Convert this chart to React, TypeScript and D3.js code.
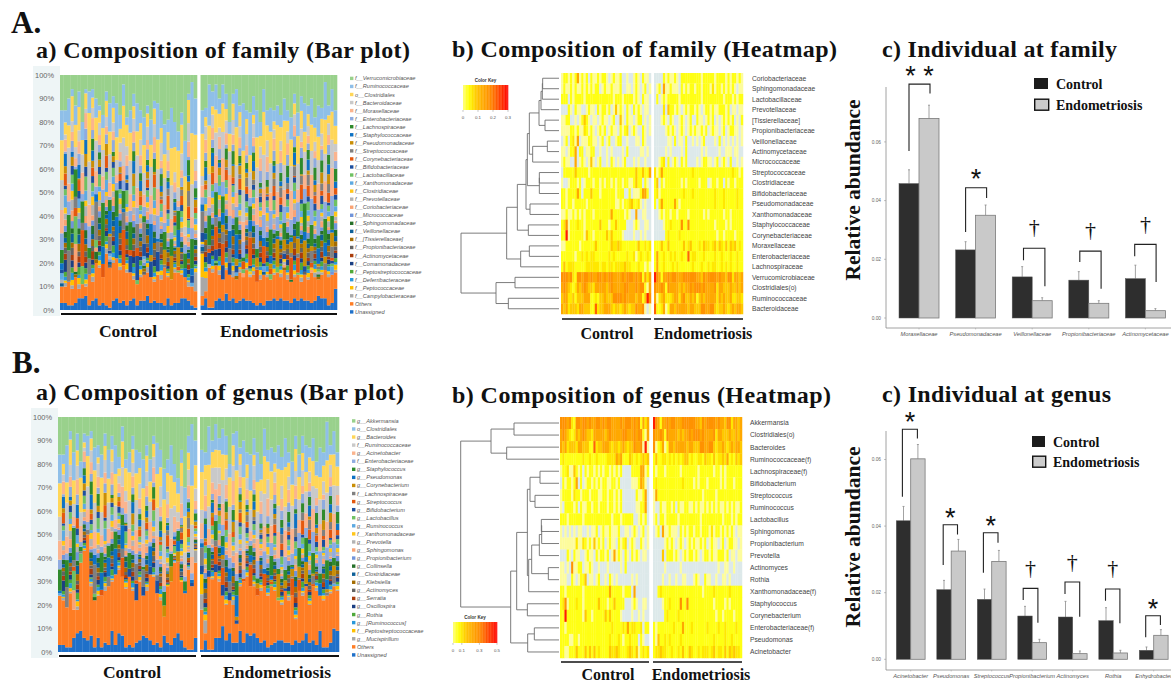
import React from "react";
import * as d3 from "d3";

const SERIF = "'Liberation Serif','Times New Roman',serif";
const SANS = "'Liberation Sans',Arial,sans-serif";

// ---------- stacked composition bars ----------
const percentTicks = [0, 10, 20, 30, 40, 50, 60, 70, 80, 90, 100];
const familyNames = ["f__Verrucomicrobiaceae","f__Ruminococcaceae","o__Clostridiales","f__Bacteroidaceae","f__Moraxellaceae","f__Enterobacteriaceae","f__Lachnospiraceae","f__Staphylococcaceae","f__Pseudomonadaceae","f__Streptococcaceae","f__Corynebacteriaceae","f__Bifidobacteriaceae","f__Lactobacillaceae","f__Xanthomonadaceae","f__Clostridiaceae","f__Prevotellaceae","f__Coriobacteriaceae","f__Micrococcaceae","f__Sphingomonadaceae","f__Veillonellaceae","f__[Tissierellaceae]","f__Propionibacteriaceae","f__Actinomycetaceae","f__Comamonadaceae","f__Peptostreptococcaceae","f__Deferribacteraceae","f__Peptococcaceae","f__Campylobacteraceae","Others","Unassigned"];
const genusNames = ["g__Akkermansia","o__Clostridiales","g__Bacteroides","f__Ruminococcaceae","g__Acinetobacter","f__Enterobacteriaceae","g__Staphylococcus","g__Pseudomonas","g__Corynebacterium","f__Lachnospiraceae","g__Streptococcus","g__Bifidobacterium","g__Lactobacillus","g__Ruminococcus","f__Xanthomonadaceae","g__Prevotella","g__Sphingomonas","g__Propionibacterium","g__Collinsella","f__Clostridiaceae","g__Klebsiella","g__Actinomyces","g__Serratia","g__Oscillospira","g__Rothia","g__[Ruminococcus]","f__Peptostreptococcaceae","g__Mucispirillum","Others","Unassigned"];
const stackColors = ["#99d18c","#8fbfe8","#ffd658","#c9c9c9","#fbb48e","#8fabdf","#2f8a2c","#0e72c4","#c98e06","#808080","#e4580f","#1d4f9e","#6fc163","#5eaae2","#ffc61a","#b3b3b3","#f9a374","#7094da","#26702a","#0d6098","#a46c02","#636363","#a93d0d","#1b3f82","#4fa93a","#2a98da","#ffc000","#a8a8a8","#ff7d24","#1f70c9"];

const familyUnassigned = [3,3,2,2,3,5,5,6,2,4,5,2,3,2,1,4,5,3,4,2,4,5,2,4,4,6,3,4,3,3,2,5,2,3,3,5,5,4,2,1, 2,5,1,1,4,5,4,7,4,5,3,4,5,4,4,3,2,3,2,4,4,5,4,5,4,4,3,5,4,5,4,4,3,4,6,5,5,2,3,9];
const familyOthers = [10,10,12,9,14,9,11,10,15,12,20,18,14,24,18,20,22,17,19,16,16,13,11,14,15,16,14,12,15,13,18,14,13,16,16,15,14,10,10,8, 6,8,18,16,19,15,13,17,15,14,13,16,14,17,14,15,12,13,15,14,13,15,16,14,17,13,12,14,15,12,15,13,16,14,13,15,17,14,15,16];
const familyTop = [85,85,90,94,87,93,80,94,93,94,90,87,83,93,88,91,88,83,96,82,85,92,88,85,82,87,81,89,88,85,79,81,86,80,76,84,72,92,97,90, 85,86,96,93,96,90,96,92,80,92,94,87,88,85,84,91,85,80,94,85,86,85,87,83,90,85,82,92,84,91,88,87,90,82,87,86,97,87,94,85];
const familyMid = [
"9a647a5345 5437a89c65 4a7a9686bc a9cfa8c4ej a7b9ba8c46 b6c7ff9c8b 9b7a89a7ba a8b9c9ba8c",
"ca5e8f4b96 6a5c8a6c9e 5a6d9a7c9a 8dbfjjhfed i7d5a9c96a bdac67a9fb c8ebg9c8dc 7bbc9ca8ae",
"9486475386 8a67a64886 6a8c7a9a6c 98a67b3c96 4a68a6ba89 8a896baacc b9a89ab8c9 89a89a8ca6",
"7a45386b47 4836562847 3958476c85 6746353a35 5a37c8a9e6 4a58379b9b 7c9a6ad864 57a6a36aa7",
"5236172845 2637182536 2746383574 3524263234 3625476354 3746358a86 7a58697897 56b8a95a76",
"4080a06027 06a0437050 5806240a08 6352a05a85 0583a27908 5715573405 a5276a147b a99b5a7a5a",
"2a03090a06 204080b013 0a0805a014 0505903421 3a08135061 7203480130 3714052910 3a04604a15",
"0605010904 0609140502 0a04052203 5071a20604 0304053607 2804073405 26a1405171 9426192a50",
"0070402030 a000500150 0060710032 1502040a00 9010405250 0407241301 0708152726 0a53162940",
"0a0037a005 00390006a0 1027060a03 0a04260803 0417a09804 0a26a04061 2a0604a17a 0a27040a15",
"1305050704 0603140705 3060425060 0302040120 4030506041 2506140513 0406250403 2506070314",
"0505a05a05 2a06060409 0714050a05 0406140503 0604170604 0815160405 2a27060615 0805140615",
"2a04060703 0409150402 0503140604 0501030413 0504060503 1604050314 0403050604 0504030524",
"0505030405 0703050503 0503040513 0502040203 1504030504 0503140506 0403150304 0514030504",
"1506040706 0503140503 0604130503 0402030302 0415060304 0503150304 0604130502 0503140603",
"0506a00503 1405060304 0504060302 0201030302 0403050405 0314050604 0503140503 0614050302",
"0504060503 0503140602 0504130503 0401030201 1504030504 0503040314 0403050503 0504030415",
"0503140605 2503060504 0503140504 0201040203 0403150603 0403050403 0504061403 0504130605",
"1405060403 0503140605 0403050402 0201030402 2504030504 0503040514 0503040503 0403050604",
"0403150504 1504030504 0504160503 0402010302 0402030405 1403050503 0503140503 0403150604",
"0504030403 0403140503 0504130605 0302040102 1504030503 0504040503 0402050403 1503040503",
"0503040405 0402030503 0504040203 0302010302 0403040503 0403050402 0503040504 0304050302",
"0a04030403 0504030402 0503040501 0201020302 0403050402 0504030403 0304050403 0402030504",
"0403050402 0304050302 0304020503 0201030201 0402030403 0304050403 0402040305 0403040203",
"0304020403 0402030402 0503020304 0102010201 0304030402 0403020304 0403020403 0304030502",
"0203040302 0403020304 0204030203 0201020102 a502030403 0204030402 0403020302 0403020304",
"0302030203 0204020302 0302040203 010201030a 8a02030204 0302030402 0203040203 0204020302",
];

const genusUnassigned = [3,3,2,2,6,8,9,6,5,7,2,6,2,4,3,9,3,8,7,2,3,2,4,5,7,6,5,3,4,2,7,4,3,6,8,5,2,1,1,6, 1,5,1,1,6,6,11,5,8,4,4,9,4,8,7,8,6,4,5,2,3,4,5,5,4,4,3,5,4,5,8,4,5,3,9,2,2,4,10,9];
const genusOthers = [24,22,19,25,18,18,38,43,50,28,22,24,24,26,28,30,33,35,32,27,32,26,22,30,24,26,33,32,25,22,15,28,30,38,38,30,25,35,28,38, 18,8,32,31,34,30,24,20,22,20,12,28,30,32,28,28,24,26,28,24,28,26,22,20,26,22,24,14,26,24,28,20,28,26,24,22,24,25,28,26];
const genusTop = [84,84,88,94,85,93,81,93,92,94,87,88,84,93,86,92,88,83,96,82,85,92,86,85,82,88,82,92,89,86,78,82,88,80,74,86,70,92,97,90, 86,85,96,90,97,91,95,92,80,93,94,87,90,85,84,91,85,80,95,86,87,85,88,83,91,85,81,92,84,92,88,87,91,81,87,85,98,88,94,85];
const genusMid = [
"c8b5da7a85 7a88c9ab76 5c7ea8b7cb bbcdf9ceji a9c8d9ce57 b6cbfecfb8 bc9ab9c9cb b9bdcbca9b",
"e96fb9f6c8 a5c9a8b7cf 7c8ebcabdc cfdhigfech hadb9dcabc eafc89cbfc d9ecfcbfcb 8dcc9dabcf",
"a6a7686498 9b88b75797 7c9d8ba9bd bac89c5da9 6b7abcbca9 9b9a9cbadd cbaa9bcaba 9ab9ab9db7",
"8b56497c58 59476839a8 5a7958ad96 8b5b7a5b56 7b58d9aa9e 6a69489cac 8da9abd975 68b7b48ab8",
"4226162735 2526171436 1635372463 2413252323 2514365243 2635247975 6947586786 45a7984a65",
"9080f02809 0a70526051 4705140a06 5250a14505 0472a35806 4604462503 95264913a6 88ab496939",
"1a0208090a 30608090b0 0a0605a004 0402a01311 2a07024051 6102370120 2605041a00 2a03503905",
"0403000803 0508030401 0a03040102 4060a10503 0203042506 1703062304 1590304060 9315081a40",
"0060301020 9000400040 0050600021 0401030900 8000304140 0306130200 0607041615 0942051830",
"0900260004 0028000590 0016050902 0903150702 0306908703 0915903050 1905039069 0916030904",
"0204040603 0502030604 2050314050 0201030010 3020405030 1405030402 0305140302 1405060203",
"0404904904 1905050308 0603040904 0305030402 0503060503 0704050304 1916050504 0704030504",
"1903050602 0308040301 0402030503 0400020302 0403050402 0503040203 0302040503 0403020413",
"0404020304 0a02040402 0402030402 0401030102 0403020403 0402030405 0302040203 0403020403",
"0405030605 0402030402 0503020402 0301020201 0304050203 0402040203 0503020401 0402030502",
"0405900402 0304050203 0403050201 0100020201 0302040304 0203040503 0402030402 0503040201",
"0403050402 0402030501 0403020402 0300020100 0403020403 0402030203 0302040402 0403020304",
"0402030504 1402050403 0402030403 0100030102 0302040502 0302040302 0403050302 0403020504",
"0304050302 0402030504 0302040301 0100020301 1403020403 0402030403 0402030402 0302040503",
"0302040403 0403020403 0403050402 0301000201 0301020304 0302040402 0402030402 0302040503",
"0403020302 0302030402 0403020504 0201030001 0403020402 0403030402 0301040302 0402030402",
"0402030304 0301020402 0403030102 0201000201 0302030402 0302040301 0402030403 0203040201",
"0903020302 0403020301 0402030400 0100010201 0302040301 0403020302 0203040302 0301020403",
"0302040301 0203040201 0203010402 0100020100 0301020302 0203040302 0301030204 0302030102",
"0203010302 0301020301 0402010203 0001000100 0203020301 0302010203 0302010302 0203020401",
"0102030201 0302010203 0103020102 0100010001 9401020302 0103020301 0302010201 0302030203",
"0201020102 0103010201 0201030102 0001000209 7901020103 0201020301 0102030102 0103010201",
];

// ---------- heatmaps: abundance level per sample, 0 = absent ----------
const familyRows = ["Coriobacteriaceae","Sphingomonadaceae","Lactobacillaceae","Prevotellaceae","[Tissierellaceae]","Propionibacteriaceae","Veillonellaceae","Actinomycetaceae","Micrococcaceae","Streptococcaceae","Clostridiaceae","Bifidobacteriaceae","Pseudomonadaceae","Xanthomonadaceae","Staphylococcaceae","Corynebacteriaceae","Moraxellaceae","Enterobacteriaceae","Lachnospiraceae","Verrucomicrobiaceae","Clostridiales(o)","Ruminococcaceae","Bacteroidaceae"];
const familyHeat = [
"1221212512 1202112122 1012112001 0012102110 0000212112 1022222222 2122222122 2212122121",
"1211212112 1212122012 1121112001 1012101201 0120511211 1021212212 2122213122 1212121011",
"2220212222 1222222222 2221222122 2212102110 0201212222 2122222222 2122222222 2122212122",
"0002102110 0121102122 1201412102 1021210110 0000304221 2101212212 1012212112 2212011011",
"1122001012 4210110121 1012004102 1101220101 0001210210 0121012002 1101212010 1212120102",
"1111221211 3212101212 0121102123 0121002101 0000012121 0121012121 1212012110 1201221101",
"0120231501 1122110120 1200122001 0001102100 0000001102 0110200101 0120000102 0101010101",
"1101225022 0112200100 1010000102 0000011010 0000010100 0010200000 0101000001 0011101100",
"1211005012 1014101200 1021010120 0010100100 0012302012 1021200001 0122110120 1210200101",
"0222224222 2212222222 2222222222 2224224225 3125222222 2222222322 2222222222 2222232212",
"1001222120 1222122121 2212122122 1124220210 2402122222 2212122222 1222012212 2021221222",
"2212222520 2224222122 2222122200 2011125520 2312222222 2223222322 2222222322 2322222322",
"2212212222 2122222222 2222112122 3422310100 2025222225 2122222222 2222222322 2322222322",
"1121121212 1222122222 2252222212 1005001100 0012122122 1222212222 2212122222 2122122222",
"2361222322 1222222422 2122422220 0012100110 0000122322 2262262222 2222222122 2212122222",
"2281222222 1422122222 4242222100 0010010100 0000023222 2322222222 2222222212 2122221222",
"1122222212 2222242222 2243343222 2222422323 2224224222 2224234222 3243323424 3242434232",
"2222221223 2323322222 2323222223 2231232232 2522322323 2232272332 2232222322 3222322322",
"2423332222 2333333233 2332333343 3222322121 2522322232 3222222322 2322323322 3232322322",
"6665632665 6656556656 5665555656 6656562535 8652556566 5556666665 5465666656 5546635545",
"5654323545 6544355555 4565555566 5556566215 6556526555 5454556566 6565555635 5444544545",
"4553342444 5552232445 4446666565 5554552486 5134533345 5356445452 4545555535 4544533443",
"5453444355 4442273445 5543443454 3446556101 7223512554 5555545544 4665566434 4543454554",
];
const genusRows = ["Akkermansia","Clostridiales(o)","Bacteroides","Ruminococcaceae(f)","Lachnospiraceae(f)","Bifidobacterium","Streptococcus","Ruminococcus","Lactobacillus","Sphingomonas","Propionibacterium","Prevotella","Actinomyces","Rothia","Xanthomonadaceae(f)","Staphylococcus","Corynebacterium","Enterobacteriaceae(f)","Pseudomonas","Acinetobacter"];
const genusHeat = [
"6665632665 6656556656 5665555656 6656562535 8652556566 5556666665 5465666656 5546635545",
"5654323545 6544355555 4565555566 5556566215 6556526555 5454556566 6565555635 5444544545",
"5453444355 4442273445 5543443454 3446556181 6123512554 5555545544 4665566434 4543454554",
"2322222222 3223223222 2333354522 2432323434 2422332323 2323442322 3324332423 3435232434",
"1223114212 0212212121 2212121200 0022225512 2122212222 2212222222 1222222122 1212222222",
"0212212502 0122121212 2112212000 0011125410 2322222222 2223222212 1222122222 1212221222",
"1222213221 2221222112 2122121200 0000211250 1522222222 2222222222 2212222212 2222222222",
"1022221202 1122122122 2122121200 0000112250 1002112212 0211221121 2112121212 1121212112",
"2221222222 1222222222 2221222122 2220012120 1202212222 2122222222 2122222222 2122212122",
"1010101011 0010112012 1121112001 1012101201 0120511211 1021212212 2122213122 1212121011",
"1111111311 3212141212 0121102123 0121002101 0000012121 0121012121 1212012110 1201221101",
"0002102110 0121102122 1201512102 1021210110 0000402221 2101212212 1012212112 2212011011",
"1101061122 0112100100 0100000102 0000000000 0000010000 0010000000 0000000001 0011001000",
"1110021012 2401101200 1021010000 0010100000 0000100100 1001100012 1002110010 0110100000",
"2212222222 1222222222 2252222212 2205000000 0023222222 2222222222 2212222322 2222322222",
"2361222322 1222222422 2122422220 0012100110 0000122322 2262262222 2222222122 2212122222",
"2282222222 1422122222 4242222100 0010010100 0000023222 2322222222 2222222212 2122221222",
"2212222222 2222222222 2223222232 5233223022 2122222223 2225222322 2222322223 2232222322",
"2222112212 2222222222 2232223212 2322202100 2142232322 2232222222 2222222322 2232232222",
"2211222422 2424242322 2243343222 3432412323 2334332232 2324224322 3233323423 3242434332",
];
const heatLevels = [0,1,2,3,4,5,6,7,8];
const heatColors = ["#dde9ea","#fdfc9c","#ffff14","#ffe800","#ffc800","#ffa800","#ff9200","#ff6400","#ff1e00"];
const familyKeyTicks = [0,0.1,0.2,0.3];
const genusKeyTicks = [0,0.1,0.3,0.5];

// dendrograms: [merge height, left, right], a bare number is a row
type Tree = number | [number, Tree, Tree];
const familyTree: Tree = [294,
  [157,
    [125,
      [99,
        [95,
          [89,
            [60,[54,[50,[49,0,1],2],3],[42,4,5]],
            [79,[35,6,7],8]],
          [59,[59,9,10],11]],
        [87,12,13]],
      [92,14,15]],
    [115,[89,16,17],18]],
  [189,[132,19,20],[152,21,22]]];
const genusTree: Tree = [295,
  [204,[135,0,1],[157,2,3]],
  [145,
    [127,
      [95,
        [87,[57,4,5],[72,6,7]],
        [91,
          [82,
            [59,[52,[53,8,9],10],11],
            [32,12,13]],
          14]],
      [95,15,16]],
    [94,[74,17,18],19]]];

// ---------- individual abundance bars ----------
const familyTaxa = ["Moraxellaceae","Pseudomonadaceae","Veillonellaceae","Propionibacteriaceae","Actinomycetaceae"];
const familyControl = [0.0458,0.0232,0.014,0.0129,0.0134];
const familyEndo = [0.068,0.035,0.0059,0.005,0.0025];
const familyControlHi = [0.0505,0.026,0.0175,0.0158,0.018];
const familyEndoHi = [0.0725,0.0385,0.0069,0.0059,0.0032];
const familyBracketTop = [0.0797,0.0444,0.02375,0.0228,0.0251];
const familyBracketLeft = [0.0569,0.0293,0.0197,0.0191,0.021];
const familyBracketRight = [0.0765,0.0409,0.0108,0.01,0.0123];
const familyMarks = ["* *","*","†","†","†"];
const familyMarkLevel = [0.0838,0.0488,0.0293,0.0282,0.0302];
const familyYTicks = [0,0.02,0.04,0.06];

const genusTaxa = ["Acinetobacter","Pseudomonas","Streptococcus","Propionibacterium","Actinomyces","Rothia","Enhydrobacter"];
const genusControl = [0.0416,0.0209,0.018,0.013,0.0127,0.0116,0.0027];
const genusEndo = [0.0602,0.0325,0.0294,0.005,0.0017,0.0019,0.0072];
const genusControlHi = [0.0459,0.0237,0.0211,0.0159,0.0174,0.0155,0.0037];
const genusEndoHi = [0.0645,0.036,0.0327,0.006,0.0025,0.0027,0.0089];
const genusBracketTop = [0.0691,0.0404,0.038,0.0213,0.0232,0.0211,0.0131];
const genusBracketLeft = [0.0488,0.0283,0.026,0.0178,0.0196,0.0176,0.0066];
const genusBracketRight = [0.0663,0.0375,0.035,0.011,0.0128,0.0108,0.0103];
const genusMarks = ["*","*","*","†","†","†","*"];
const genusMarkLevel = [0.0725,0.0436,0.0412,0.0258,0.0278,0.0258,0.0163];
const genusYTicks = [0,0.02,0.04,0.06];

const digits = (s: string) => s.replace(/ /g, "").split("").map((c) => parseInt(c, 36));

function StackPanel({ names, unassigned, others, top, mid, xL, xR, y0, y1, legX, legY0, legY1, labelY, lineY, ctlX, endoX }: any) {
  const n = unassigned.length;
  const half = n / 2;
  const mids = mid.map(digits);
  const table = d3.range(n).map((i) => {
    const row: Record<string, number> = {};
    const sum = d3.sum(mids as number[][], (m) => m[i] || 0);
    const room = top[i] - others[i];
    names.forEach((name: string, k: number) => {
      if (k === 0) row[name] = 100 - top[i];
      else if (k === names.length - 1) row[name] = unassigned[i];
      else if (k === names.length - 2) row[name] = others[i] - unassigned[i];
      else row[name] = ((mids[k - 1][i] || 0) * room) / sum;
    });
    return row;
  });
  const keys = [...names].reverse();
  const layers = d3.stack<Record<string, number>>().keys(keys)(table);
  const color = d3.scaleOrdinal<string, string>().domain(names).range(stackColors);
  const y = d3.scaleLinear().domain([0, 100]).range([y0, y1]);
  const xCtl = d3.scaleBand<number>().domain(d3.range(half)).range([xL[0], xL[1]]);
  const xEnd = d3.scaleBand<number>().domain(d3.range(half)).range([xR[0], xR[1]]);
  const leg = d3.scalePoint<string>().domain(names).range([legY0, legY1]);
  return (
    <g>
      <rect x={xL[0] - 27} y={y1 - 9} width={27} height={y0 - y1 + 15} fill="#eef5f6" />
      {percentTicks.map((t) => (
        <text key={t} x={xL[0] - 6} y={y(t) + 2.5} textAnchor="end" fontFamily={SANS} fontSize={7.4} fill="#666">{t}%</text>
      ))}
      <g style={{ filter: "blur(0.35px)" }}>
        {layers.map((layer) => layer.map((d, i) => {
          const ctl = i < half;
          const sc = ctl ? xCtl : xEnd;
          const j = ctl ? i : i - half;
          return <rect key={layer.key + i} x={sc(j)} width={sc.bandwidth() + 0.3} y={y(d[1])} height={Math.max(0, y(d[0]) - y(d[1]))} fill={color(layer.key)} />;
        }))}
      </g>
      <line x1={xL[0] + 1} x2={xL[1] - 1} y1={lineY} y2={lineY} stroke="#111" strokeWidth={2} />
      <line x1={xR[0] + 1} x2={xR[1]} y1={lineY} y2={lineY} stroke="#111" strokeWidth={2} />
      <text x={ctlX} y={labelY} textAnchor="middle" fontFamily={SERIF} fontWeight="bold" fontSize={17.5} fill="#111">Control</text>
      <text x={endoX} y={labelY} textAnchor="middle" fontFamily={SERIF} fontWeight="bold" fontSize={17.5} fill="#111">Endometriosis</text>
      {names.map((name: string) => (
        <g key={name}>
          <rect x={legX} y={leg(name)! - 1.8} width={3.4} height={3.4} fill={color(name)} />
          <text x={legX + 5} y={leg(name)! + 1.9} fontFamily={SANS} fontStyle="italic" fontSize={5.6} fill="#555">{name}</text>
        </g>
      ))}
    </g>
  );
}

function Dendrogram({ tree, rowY, hMax, xLeaf, xRoot }: any) {
  const root = d3.hierarchy<Tree>(tree, (d) => (Array.isArray(d) ? (d.slice(1) as Tree[]) : null));
  const x = d3.scaleLinear().domain([0, hMax]).range([xLeaf, xRoot]);
  const pos = new Map<any, [number, number]>();
  const paths: string[] = [];
  root.eachAfter((node) => {
    if (!node.children) { pos.set(node, [xLeaf, rowY(String(node.data))]); return; }
    const h = (node.data as any)[0];
    const a = pos.get(node.children[0])!;
    const b = pos.get(node.children[1])!;
    paths.push(`M${a[0]},${a[1]}H${x(h)}V${b[1]}H${b[0]}`);
    pos.set(node, [x(h), (a[1] + b[1]) / 2]);
  });
  return <path d={paths.join("")} fill="none" stroke="#6e6e6e" strokeWidth={0.9} />;
}

function HeatPanel({ rows, heat, tree, hMax, xL, xR, y0, y1, labelX, lineY, labelY, ctlX, endoX, xLeaf, xRoot, keyBox, keyTicks }: any) {
  const half = 40;
  const color = d3.scaleLinear<string>().domain(heatLevels).range(heatColors);
  const y = d3.scaleBand<string>().domain(rows).range([y0, y1]);
  const rowY = (r: string) => y(rows[+r] ?? r)! + y.bandwidth() / 2;
  const xCtl = d3.scaleBand<number>().domain(d3.range(half)).range([xL[0], xL[1]]);
  const xEnd = d3.scaleBand<number>().domain(d3.range(half)).range([xR[0], xR[1]]);
  const keyScale = d3.scaleLinear().domain([keyTicks[0], keyTicks[keyTicks.length - 1]]).range([keyBox[0], keyBox[1]]);
  const keyStops = d3.scaleLinear<string>().domain([0, 0.12, 0.3, 0.6, 1]).range(["#ffff70", "#ffff00", "#ffc400", "#ff8a00", "#ff0000"]);
  return (
    <g>
      <g style={{ filter: "blur(0.3px)" }}>
        {heat.map((line: string, r: number) => digits(line).map((v: number, i: number) => {
          const ctl = i < half;
          const sc = ctl ? xCtl : xEnd;
          return <rect key={r + "-" + i} x={sc(ctl ? i : i - half)} y={y(rows[r])} width={sc.bandwidth() + 0.25} height={y.bandwidth() + 0.25} fill={color(v)} />;
        }))}
      </g>
      {rows.map((name: string) => (
        <text key={name} x={labelX} y={y(name)! + y.bandwidth() / 2 + 2.4} fontFamily={SANS} fontSize={6.7} fill="#444">{name}</text>
      ))}
      <Dendrogram tree={tree} rowY={rowY} hMax={hMax} xLeaf={xLeaf} xRoot={xRoot} />
      <line x1={xL[0] + 1} x2={xL[1]} y1={lineY} y2={lineY} stroke="#111" strokeWidth={1.6} />
      <line x1={xR[0]} x2={xR[1]} y1={lineY} y2={lineY} stroke="#111" strokeWidth={1.6} />
      <text x={ctlX} y={labelY} textAnchor="middle" fontFamily={SERIF} fontWeight="bold" fontSize={16} fill="#111">Control</text>
      <text x={endoX} y={labelY} textAnchor="middle" fontFamily={SERIF} fontWeight="bold" fontSize={16} fill="#111">Endometriosis</text>
      {d3.range(60).map((i) => (
        <rect key={i} x={keyBox[0] + (i * (keyBox[1] - keyBox[0])) / 60} y={keyBox[2]} width={(keyBox[1] - keyBox[0]) / 60 + 0.3} height={keyBox[3] - keyBox[2]} fill={keyStops(i / 60)} />
      ))}
      <text x={(keyBox[0] + keyBox[1]) / 2} y={keyBox[2] - 2.6} textAnchor="middle" fontFamily={SANS} fontWeight="bold" fontSize={4.6} fill="#333">Color Key</text>
      {keyTicks.map((t: number) => (
        <g key={t}>
          <line x1={keyScale(t)} x2={keyScale(t)} y1={keyBox[3]} y2={keyBox[3] + 1.8} stroke="#666" strokeWidth={0.4} />
          <text x={keyScale(t)} y={keyBox[3] + 9} textAnchor="middle" fontFamily={SANS} fontSize={4.4} fill="#555">{t}</text>
        </g>
      ))}
    </g>
  );
}

function BarsPanel({ taxa, control, endo, controlHi, endoHi, top, left, right, marks, markLevel, yTicks, x0, step, barW, dLeft, dRight, yZero, yPer, axisX, axisTop, axisY, axisEnd, yLabelX, yLabelY, leg }: any) {
  const x = d3.scaleBand<string>().domain(taxa).range([x0 - step / 2, x0 - step / 2 + step * taxa.length]);
  const cx = (t: string) => x(t)! + step / 2;
  const y = d3.scaleLinear().domain([0, 0.06]).range([yZero, yZero - yPer * 3]);
  return (
    <g>
      <path d={`M${axisX},${axisTop}V${axisY}H${axisEnd}`} fill="none" stroke="#8a8a8a" strokeWidth={0.8} />
      {yTicks.map((t: number) => (
        <g key={t}>
          <line x1={axisX - 2} x2={axisX} y1={y(t)} y2={y(t)} stroke="#888" strokeWidth={0.5} />
          <text x={axisX - 5} y={y(t) + 1.7} textAnchor="end" fontFamily={SANS} fontSize={4.8} fill="#666">{t.toFixed(2)}</text>
        </g>
      ))}
      {taxa.map((t: string, i: number) => {
        const c = cx(t);
        return (
          <g key={t}>
            <line x1={c} x2={c} y1={axisY} y2={axisY + 1.5} stroke="#888" strokeWidth={0.4} />
            <text x={c} y={axisY + 8} textAnchor="middle" fontFamily={SANS} fontStyle="italic" fontSize={5.7} fill="#555">{t}</text>
            <path d={`M${c - barW / 2},${y(control[i])}V${y(controlHi[i])}m-1,0h2`} fill="none" stroke="#8c8c8c" strokeWidth={0.8} />
            <path d={`M${c + barW / 2},${y(endo[i])}V${y(endoHi[i])}m-1,0h2`} fill="none" stroke="#8c8c8c" strokeWidth={0.8} />
            <rect x={c - barW} y={y(control[i])} width={barW} height={y(0) - y(control[i])} fill="#2e2e2e" stroke="#555" strokeWidth={0.5} />
            <rect x={c} y={y(endo[i])} width={barW} height={y(0) - y(endo[i])} fill="#c9c9c9" stroke="#7a7a7a" strokeWidth={0.8} />
            <path d={`M${c + dLeft[i]},${y(left[i])}V${y(top[i])}H${c + dRight[i]}V${y(right[i])}`} fill="none" stroke="#222" strokeWidth={1.1} />
            <text x={c + (dLeft[i] + dRight[i]) / 2} y={marks[i] === "†" ? y(markLevel[i]) + 2 : y(markLevel[i]) + 13} textAnchor="middle" fontFamily={marks[i] === "†" ? SERIF : SANS} fontSize={marks[i] === "†" ? 22 : 27} fill="#111" style={{ whiteSpace: "pre" }}>{marks[i]}</text>
          </g>
        );
      })}
      <text transform={`translate(${yLabelX},${yLabelY}) rotate(-90)`} textAnchor="middle" fontFamily={SERIF} fontWeight="bold" fontSize={21.5} fill="#111">Relative abundance</text>
      <rect x={leg[0]} y={leg[1]} width={leg[2]} height={leg[3]} fill="#1c1c1c" />
      <rect x={leg[0] + 0.7} y={leg[4] + 0.7} width={leg[2]} height={leg[3]} fill="#cccccc" stroke="#111" strokeWidth={1.4} />
      <text x={leg[5]} y={leg[1] + leg[3] - 0.5} fontFamily={SERIF} fontWeight="bold" fontSize={14} fill="#111">Control</text>
      <text x={leg[5]} y={leg[4] + leg[3] + 0.5} fontFamily={SERIF} fontWeight="bold" fontSize={14} fill="#111">Endometriosis</text>
    </g>
  );
}

function Title({ x, y, w, children, size = 24 }: any) {
  return <text x={x} y={y} textLength={w} lengthAdjust="spacing" fontFamily={SERIF} fontWeight="bold" fontSize={size} fill="#111">{children}</text>;
}

export default function App() {
  return (
    <svg width={1171} height={684} viewBox="0 0 1171 684" style={{ position: "fixed", left: 0, top: 0, background: "#fff" }}>
      <text x={11} y={33} fontFamily={SERIF} fontWeight="bold" fontSize={31} fill="#111">A.</text>
      <text x={12} y={373} fontFamily={SERIF} fontWeight="bold" fontSize={31} fill="#111">B.</text>
      <Title x={36} y={58} w={374}>a) Composition of family (Bar plot)</Title>
      <Title x={452} y={57} w={385}>b) Composition of family (Heatmap)</Title>
      <Title x={882} y={57} w={235}>c) Individual at family</Title>
      <Title x={36} y={400} w={368}>a) Composition of genus (Bar plot)</Title>
      <Title x={452} y={403} w={379}>b) Composition of genus (Heatmap)</Title>
      <Title x={882} y={402} w={229}>c) Individual at genus</Title>

      <StackPanel names={familyNames} unassigned={familyUnassigned} others={familyOthers} top={familyTop} mid={familyMid}
        xL={[60, 197]} xR={[200.5, 337]} y0={310} y1={75} legX={350} legY0={78.5} legY1={312} labelY={337} lineY={314} ctlX={128} endoX={274} />
      <StackPanel names={genusNames} unassigned={genusUnassigned} others={genusOthers} top={genusTop} mid={genusMid}
        xL={[58, 197]} xR={[200, 339]} y0={652} y1={417} legX={352} legY0={421} legY1={655} labelY={678} lineY={656} ctlX={132} endoX={277} />

      <HeatPanel rows={familyRows} heat={familyHeat} tree={familyTree} hMax={294} xL={[561, 651]} xR={[654, 743]} y0={73} y1={314}
        labelX={752} lineY={319} labelY={339} ctlX={607} endoX={703} xLeaf={559} xRoot={461} keyBox={[463, 508, 85, 110]} keyTicks={familyKeyTicks} />
      <HeatPanel rows={genusRows} heat={genusHeat} tree={genusTree} hMax={295} xL={[560, 649]} xR={[653, 742]} y0={417} y1={658}
        labelX={750} lineY={662} labelY={680} ctlX={608} endoX={701} xLeaf={559} xRoot={460.7} keyBox={[453, 497, 622, 643]} keyTicks={genusKeyTicks} />

      <BarsPanel taxa={familyTaxa} control={familyControl} endo={familyEndo} controlHi={familyControlHi} endoHi={familyEndoHi}
        top={familyBracketTop} left={familyBracketLeft} right={familyBracketRight} marks={familyMarks} markLevel={familyMarkLevel} yTicks={familyYTicks}
        x0={919} step={56.6} barW={20} dLeft={[-10,-10,-8.7,-9,-10.7]} dRight={[11,11,12.7,12.3,10.7]}
        yZero={318} yPer={58.7} axisX={886} axisTop={87} axisY={328} axisEnd={1171} yLabelX={860} yLabelY={190}
        leg={[1034, 78, 14, 11, 98.5, 1056]} />
      <BarsPanel taxa={genusTaxa} control={genusControl} endo={genusEndo} controlHi={genusControlHi} endoHi={genusEndoHi}
        top={genusBracketTop} left={genusBracketLeft} right={genusBracketRight} marks={genusMarks} markLevel={genusMarkLevel} yTicks={genusYTicks}
        x0={910.7} step={40.5} barW={14.4} dLeft={[-8.3,-8,-8.3,-9,-7.7,-7.7,-8]} dRight={[6.7,6.3,6.3,5.7,7,6.7,6.7]}
        yZero={659.3} yPer={66.6} axisX={886} axisTop={431} axisY={670} axisEnd={1171} yLabelX={860} yLabelY={537}
        leg={[1032, 436, 13, 11, 455.5, 1053]} />
    </svg>
  );
}
